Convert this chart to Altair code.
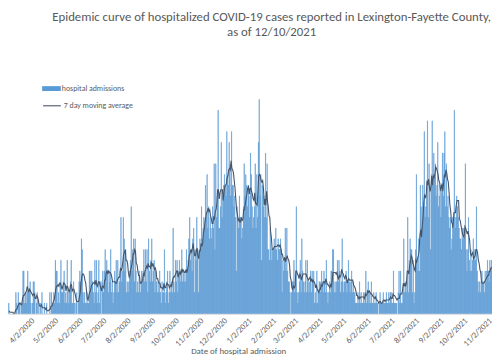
import altair as alt
import pandas as pd
from datetime import datetime, timedelta, timezone

# daily hospital admissions, one list per month
mar20 = [1,0,0,0,0, 1,0,0,0,0, 0,0,0,0,2, 1,0,2,1,1, 0,1,1,4,4, 1,2,1,2,4, 2]
apr20 = [2,3,1,0,1, 3,3,2,0,1, 2,0,1,0,1, 0,2,0,0,1, 0,0,1,0,0, 0,2,0,2,1]
may20 = [1,2,1,5,4, 4,1,2,1,3, 5,2,2,3,4, 1,2,1,5,2, 1,2,3,5,1, 1,3,1,0,1, 2]
jun20 = [0,1,3,4,3, 7,6,2,1,2, 1,1,2,1,1, 4,4,2,4,3, 2,1,5,2,5, 1,2,5,1,3]
jul20 = [0,3,4,2,4, 6,3,5,4,2, 4,3,6,2,3, 1,2,4,3,5, 2,5,2,3,4, 9,3,4,9,7, 4]
aug20 = [6,2,3,2,3, 4,5,10,4,6, 7,3,7,4,2, 3,2,4,3,2, 4,3,4,6,3, 6,3,6,2,7, 4]
sep20 = [3,5,7,3,4, 5,2,4,3,2, 3,2,4,2,1, 3,2,2,6,1, 2,3,4,1,2, 4,2,3,2,8]
oct20 = [3,2,5,3,5, 2,4,5,3,4, 6,3,4,3,4, 3,6,4,5,7, 9,5,6,4,7, 8,2,6,5,9, 6]
nov20 = [2,6,7,6,10, 7,8,9,8,12, 9,13,8,10,7, 9,8,7,10,8, 14,6,14,9,11, 19,8,8,10,16]
dec20 = [9,11,12,13,12, 11,17,13,12,16, 14,11,17,12,12, 10,11,9,4,10, 9,8,11,9,9, 7,8,10,14,11, 13]
jan21 = [12,10,12,11,9, 15,13,10,8,9, 10,14,8,13,9, 16,20,11,13,5, 12,10,11,9,15, 9,14,6,6,5, 8]
feb21 = [6,5,6,6,7, 6,8,6,5,7, 6,6,7,6,2, 5,4,5,8,4, 8,4,3,3,2, 0,2,3]
mar21 = [3,5,2,3,10, 2,1,2,3,5, 2,7,4,3,2, 3,5,2,5,3, 2,3,4,2,4, 3,4,1,2,1, 4]
apr21 = [1,2,3,3,2, 4,3,2,4,3, 2,5,2,1,2, 3,2,4,4,6, 6,2,3,2,3, 5,3,5,4,2]
may21 = [3,7,3,2,3, 3,4,2,3,5, 3,2,3,4,2, 3,2,2,1,1, 1,2,1,3,1, 2,1,1,2,1, 2]
jun21 = [4,1,2,3,1, 2,1,3,1,1, 2,1,1,2,1, 1,0,1,2,1, 1,1,2,1,1, 1,2,1,1,2]
jul21 = [1,2,2,1,1, 4,1,1,1,1, 0,2,4,1,4, 1,1,2,7,2, 3,2,3,9,2, 5,7,6,6,2, 5]
aug21 = [1,2,6,13,5, 4,7,4,12,10, 8,12,10,17,9, 10,11,18,9,14, 12,6,13,18,12, 15,13,14,11,12, 16]
sep21 = [10,11,12,9,12, 15,11,15,17,10, 14,10,11,9,8, 9,6,7,9,8, 19,8,9,11,10, 9,8,7,7,6]
oct21 = [8,7,8,7,14, 6,4,6,9,5, 4,6,4,5,7, 5,6,5,10,4, 3,2,3,2,3, 4,3,3,2,4, 3]
nov21 = [4,5,4,3,5, 4,5,4,5]

month_data = [
    ((2020, 3), mar20), ((2020, 4), apr20), ((2020, 5), may20), ((2020, 6), jun20),
    ((2020, 7), jul20), ((2020, 8), aug20), ((2020, 9), sep20), ((2020, 10), oct20),
    ((2020, 11), nov20), ((2020, 12), dec20), ((2021, 1), jan21), ((2021, 2), feb21),
    ((2021, 3), mar21), ((2021, 4), apr21), ((2021, 5), may21), ((2021, 6), jun21),
    ((2021, 7), jul21), ((2021, 8), aug21), ((2021, 9), sep21), ((2021, 10), oct21),
    ((2021, 11), nov21),
]

title_lines = ["Epidemic curve of hospitalized COVID-19 cases reported in Lexington-Fayette County,",
               "as of 12/10/2021"]
bar_label = "hospital admissions"
line_label = "7 day moving average"
x_title = "Date of hospital admission"

rows = []
for (y, m), vals in month_data:
    for i, v in enumerate(vals):
        d = datetime(y, m, 1) + timedelta(days=i)
        rows.append({"date": d.strftime("%Y-%m-%d"), "admissions": v})
df = pd.DataFrame(rows)

utc = timezone.utc
origin = datetime(2020, 3, 2, tzinfo=utc)
t0 = (origin + timedelta(days=4.11)).timestamp() * 1000
t1 = (origin + timedelta(days=616.8)).timestamp() * 1000

tick_vals = []
yy, mm = 2020, 3
while (yy, mm) <= (2021, 12):
    tick_vals.append(datetime(yy, mm, 2, 12, tzinfo=utc).timestamp() * 1000)
    mm += 1
    if mm > 12:
        mm = 1
        yy += 1

FONT = "Carlito, Lato, sans-serif"
GRAY = "#595959"
BLUE = "#5B9BD5"
DARK = "#44546A"

xscale = alt.Scale(domain=[t0, t1])
yscale = alt.Scale(domain=[0, 28.26], nice=False)

xaxis = alt.Axis(values=tick_vals,
                 labelExpr="utcFormat(datum.value, '%-m/%-d/%Y')",
                 labelAngle=-45, labelFontSize=8.5, labelColor=GRAY,
                 labelFont=FONT, ticks=False, grid=False,
                 domainColor="#D9D9D9", domainWidth=1,
                 labelOverlap=False, labelPadding=2, labelBound=False,
                 title=x_title, titleFontSize=9, titleColor=GRAY,
                 titleFont=FONT, titleFontWeight="normal",
                 titleX=234, titleY=40, titleBaseline="alphabetic")

base = alt.Chart(df)

bars = base.transform_calculate(series="'" + bar_label + "'").mark_bar(
    clip=True, stroke=BLUE, strokeWidth=0.6
).encode(
    x=alt.X("utcyearmonthdate(date):T", scale=xscale, axis=xaxis),
    y=alt.Y("admissions:Q", scale=yscale, axis=None),
    color=alt.Color("series:N",
                    scale=alt.Scale(domain=[bar_label], range=[BLUE]),
                    legend=alt.Legend(title=None, orient="none", legendX=34.7, legendY=69.5,
                                      symbolType="M-1,-0.26L1,-0.26L1,0.26L-1,0.26Z",
                                      symbolSize=361, symbolStrokeWidth=0,
                                      labelFontSize=8, labelColor=GRAY, labelFont=FONT,
                                      labelOffset=1, padding=0)),
)

line = base.transform_window(
    ma="mean(admissions)", n="count(admissions)", frame=[-6, 0],
    sort=[alt.SortField("date")]
).transform_filter("datum.n >= 7").transform_calculate(
    series2="'" + line_label + "'"
).mark_line(clip=True, strokeWidth=1.1).encode(
    x=alt.X("utcyearmonthdate(date):T", bandPosition=0.5, scale=xscale, axis=xaxis),
    y=alt.Y("ma:Q", scale=yscale, axis=None),
    stroke=alt.Stroke("series2:N",
                      scale=alt.Scale(domain=[line_label], range=[DARK]),
                      legend=alt.Legend(title=None, orient="none", legendX=34.7, legendY=86.5,
                                        symbolType="stroke", symbolSize=324,
                                        symbolStrokeWidth=1.1,
                                        labelFontSize=8, labelColor=GRAY, labelFont=FONT,
                                        labelOffset=2, padding=0)),
)

chart = alt.layer(bars, line).properties(
    width=492, height=308,
    padding={"left": 0, "top": 0, "right": 0, "bottom": 43},
    autosize=alt.AutoSizeParams(type="none"),
    title=alt.TitleParams(text=title_lines, fontSize=13, font=FONT, color=GRAY,
                          fontWeight="normal", anchor="middle", dx=22, dy=29,
                          offset=0, lineHeight=16, baseline="top"),
).configure_view(stroke=None).configure_axis(labelOverlap=False)

chart.save("out.html", embed_options={"renderer": "svg", "actions": False})
